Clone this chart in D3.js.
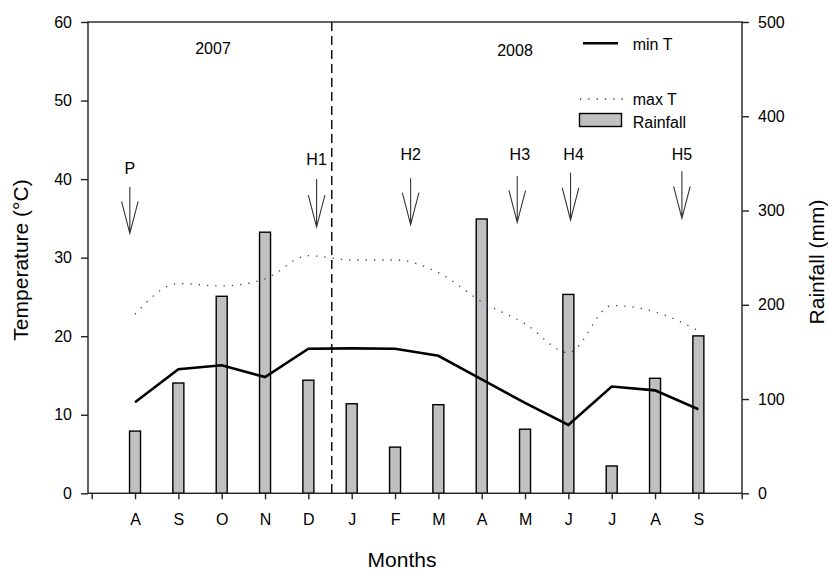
<!DOCTYPE html>
<html>
<head>
<meta charset="utf-8">
<script src="https://cdn.jsdelivr.net/npm/d3@7"></script>
<style>
  body { margin: 0; background: #fff; }
  svg { display: block; font-family: "Liberation Sans", Arial, sans-serif; }
  .axis text { font-size: 16px; fill: #000; }
  .axis line, .axis path { stroke: #222; stroke-width: 1.4; }
</style>
</head>
<body>
<svg id="chart"></svg>
<script>
// data
const months = ['A', 'S', 'O', 'N', 'D', 'J', 'F', 'M', 'A', 'M', 'J', 'J', 'A', 'S'];
const monthIdx = d3.range(1, 15);
const rainfall = [66, 117, 209, 277, 120, 95, 49, 94, 291, 68, 211, 29, 122, 167];
const minT = [11.6, 15.8, 16.3, 14.8, 18.4, 18.45, 18.4, 17.5, 14.5, 11.5, 8.7, 13.6, 13.1, 10.7];
const maxT = [22.8, 26.7, 26.4, 27.3, 30.25, 29.7, 29.7, 28.1, 24.4, 21.6, 17.9, 23.9, 23.1, 20.7];
const tempTicks = [0, 10, 20, 30, 40, 50, 60];
const rainTicks = [0, 100, 200, 300, 400, 500];
// harvest arrows: x in month units, temperatures for label / shaft top / tip
const arrowNames = ['P', 'H1', 'H2', 'H3', 'H4', 'H5'];
const arrowX = [0.88, 5.19, 7.36, 9.82, 11.05, 13.62];
const arrowLabelX = [0.88, 5.19, 7.36, 9.88, 11.12, 13.62];
const arrowLabelT = [40.7, 41.8, 42.4, 42.4, 42.4, 42.4];
const arrowTopT = [39.0, 40.0, 40.1, 40.4, 40.8, 41.0];
const arrowTipT = [33.1, 33.9, 34.2, 34.5, 34.8, 35.0];
const yearBreak = 5.54;

const W = 828, H = 570;
const pLeft = 88, pRight = 742, pTop = 22, pBottom = 493.3;

const svg = d3.select('#chart').attr('width', W).attr('height', H);

const x = d3.scaleLinear().domain([0, 15]).range([91.7, 741.7]);
const yT = d3.scaleLinear().domain([0, 60]).range([pBottom, pTop]);
const yR = d3.scaleLinear().domain([0, 500]).range([pBottom, pTop]);

// bars
svg.append('g').selectAll('rect')
    .data(rainfall)
    .enter().append('rect')
    .attr('x', (d, i) => x(monthIdx[i]) - 5.5)
    .attr('width', 11)
    .attr('y', d => yR(d))
    .attr('height', d => yR(0) - yR(d))
    .attr('fill', '#c0c0c0')
    .attr('stroke', '#000')
    .attr('stroke-width', 1.4);

// min T line
const lineMin = d3.line()
    .x((d, i) => x(monthIdx[i]))
    .y(d => yT(d));
svg.append('path')
    .datum(minT)
    .attr('d', lineMin)
    .attr('fill', 'none')
    .attr('stroke', '#000')
    .attr('stroke-width', 2.6);

// max T dotted
const lineMax = d3.line()
    .x((d, i) => x(monthIdx[i]))
    .y(d => yT(d))
    .curve(d3.curveMonotoneX);
svg.append('path')
    .datum(maxT)
    .attr('d', lineMax)
    .attr('fill', 'none')
    .attr('stroke', '#3a3a80')
    .attr('stroke-width', 1.3)
    .attr('stroke-dasharray', '1.3,7');

// year separator
svg.append('line')
    .attr('x1', x(yearBreak)).attr('x2', x(yearBreak))
    .attr('y1', pTop).attr('y2', pBottom)
    .attr('stroke', '#000')
    .attr('stroke-width', 1.4)
    .attr('stroke-dasharray', '9,5');

// frame
svg.append('rect')
    .attr('x', pLeft).attr('y', pTop)
    .attr('width', pRight - pLeft).attr('height', pBottom - pTop)
    .attr('fill', 'none')
    .attr('stroke', '#222')
    .attr('stroke-width', 1.4);

// axes
svg.append('g')
    .attr('class', 'axis')
    .attr('transform', `translate(${pLeft},0)`)
    .call(d3.axisLeft(yT).tickValues(tempTicks).tickSize(7).tickPadding(9))
    .call(g => g.select('.domain').remove());

svg.append('g')
    .attr('class', 'axis')
    .attr('transform', `translate(${pRight},0)`)
    .call(d3.axisRight(yR).tickValues(rainTicks).tickSize(7).tickPadding(9))
    .call(g => g.select('.domain').remove());

svg.append('g')
    .attr('class', 'axis')
    .attr('transform', `translate(0,${pBottom})`)
    .call(d3.axisBottom(x).tickValues(d3.range(0, 16)).tickSize(6).tickPadding(14)
        .tickFormat(d => (d >= 1 && d <= 14) ? months[d - 1] : ''))
    .call(g => g.select('.domain').remove());

// axis titles
svg.append('text')
    .attr('transform', 'translate(28,260) rotate(-90)')
    .attr('text-anchor', 'middle')
    .style('font-size', '21px')
    .text('Temperature (°C)');

svg.append('text')
    .attr('transform', 'translate(824,262) rotate(-90)')
    .attr('text-anchor', 'middle')
    .style('font-size', '21px')
    .text('Rainfall (mm)');

svg.append('text')
    .attr('x', 402).attr('y', 567)
    .attr('text-anchor', 'middle')
    .style('font-size', '21px')
    .text('Months');

// years
svg.append('text').attr('x', 213).attr('y', 54.3)
    .attr('text-anchor', 'middle').style('font-size', '16px').text('2007');
svg.append('text').attr('x', 515).attr('y', 56)
    .attr('text-anchor', 'middle').style('font-size', '16px').text('2008');

// arrows
const arrows = svg.append('g');
arrowNames.forEach((name, i) => {
    const ax = x(arrowX[i]);
    const tip = yT(arrowTipT[i]);
    arrows.append('text')
        .attr('x', x(arrowLabelX[i])).attr('y', yT(arrowLabelT[i]))
        .attr('text-anchor', 'middle')
        .style('font-size', '16px')
        .text(name);
    arrows.append('path')
        .attr('d', `M${ax},${yT(arrowTopT[i])}L${ax},${tip}M${ax - 8.3},${tip - 32}L${ax},${tip}L${ax + 8.3},${tip - 32}`)
        .attr('fill', 'none')
        .attr('stroke', '#333')
        .attr('stroke-width', 1.1);
});

// legend
const legend = svg.append('g');
legend.append('line')
    .attr('x1', 583).attr('x2', 618).attr('y1', 43.3).attr('y2', 43.3)
    .attr('stroke', '#000').attr('stroke-width', 2.6);
legend.append('text').attr('x', 632.7).attr('y', 50)
    .style('font-size', '16px').text('min T');
legend.append('line')
    .attr('x1', 580).attr('x2', 624).attr('y1', 99).attr('y2', 99)
    .attr('stroke', '#3a3a80').attr('stroke-width', 1.3)
    .attr('stroke-dasharray', '1.3,7');
legend.append('text').attr('x', 632.7).attr('y', 105)
    .style('font-size', '16px').text('max T');
legend.append('rect')
    .attr('x', 579.5).attr('y', 113.5).attr('width', 42).attr('height', 13)
    .attr('fill', '#c0c0c0').attr('stroke', '#000').attr('stroke-width', 1.4);
legend.append('text').attr('x', 632.7).attr('y', 128.3)
    .style('font-size', '16px').text('Rainfall');
</script>
</body>
</html>
